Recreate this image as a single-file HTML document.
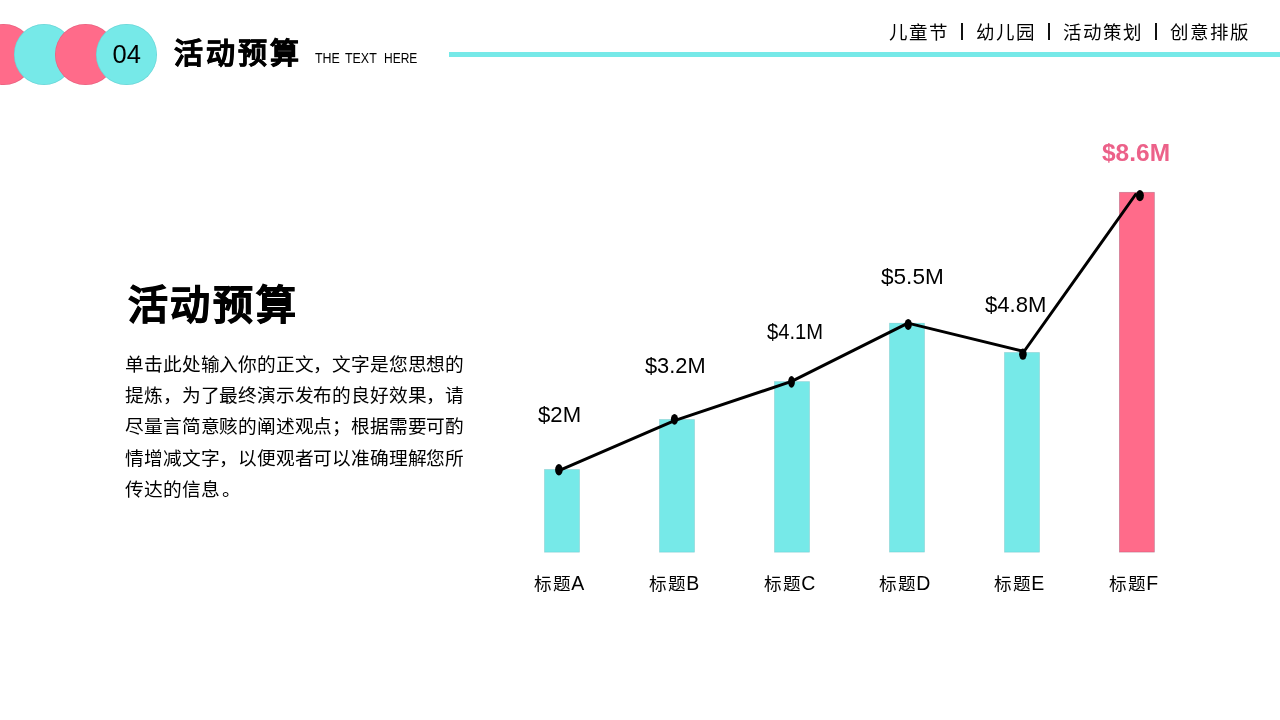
<!DOCTYPE html>
<html lang="zh-CN"><head><meta charset="utf-8">
<style>
html,body{margin:0;padding:0;}
body{width:1280px;height:720px;overflow:hidden;background:#fff;position:relative;will-change:transform;font-family:"Liberation Sans",sans-serif;color:#000;}
.a{position:absolute;white-space:nowrap;}
.c{position:absolute;width:60.5px;height:60.5px;border-radius:50%;top:24.2px;}
.pk{background:#FF6B8A;}
.c.pk{box-shadow:inset 0 0 0 0.7px rgba(150,60,90,0.2);}
.c.cy{box-shadow:inset 0 0 0 0.7px rgba(60,140,150,0.2);}
.cy{background:#76E9E8;}
#num{left:112.6px;top:40px;font-size:25.5px;line-height:28px;}
#h1{left:174px;top:34px;font-size:29px;font-weight:bold;line-height:40px;letter-spacing:3.1px;-webkit-text-stroke:0.6px #000;}
.sub{position:absolute;top:51.2px;font-size:13.8px;line-height:16px;transform:scaleX(0.9);transform-origin:0 0;white-space:nowrap;}
#rule{position:absolute;left:449px;top:52px;width:831px;height:4.8px;background:#76E9E8;}
.nav{top:20.5px;font-size:18.5px;line-height:24px;letter-spacing:1px;}
.sep{position:absolute;top:23px;width:2px;height:17px;background:#111;}
#t2{left:127.5px;top:277.7px;font-size:40px;font-weight:bold;line-height:54px;letter-spacing:2.7px;-webkit-text-stroke:0.9px #000;}
#para{position:absolute;left:125.4px;top:349px;width:345px;font-size:18.7px;line-height:31.2px;letter-spacing:-0.19px;}
.lab{position:absolute;font-size:21.5px;line-height:24px;white-space:nowrap;transform-origin:0 100%;}
.cat{position:absolute;font-size:17.6px;line-height:22px;white-space:nowrap;letter-spacing:0.6px;}
.cat span{font-size:19.5px;letter-spacing:0;}
</style></head><body>
<div class="c pk" style="left:-27px"></div>
<div class="c cy" style="left:13.9px"></div>
<div class="c pk" style="left:55.2px"></div>
<div class="c cy" style="left:96.2px"></div>
<div class="a" id="num">04</div>
<div class="a" id="h1">活动预算</div>
<div class="sub" style="left:315.3px">THE</div><div class="sub" style="left:345.4px">TEXT</div><div class="sub" style="left:383.6px;transform:scaleX(0.87)">HERE</div>
<div id="rule"></div>
<div class="a nav" style="left:888.5px">儿童节</div>
<div class="sep" style="left:961px"></div>
<div class="a nav" style="left:975.8px">幼儿园</div>
<div class="sep" style="left:1048px"></div>
<div class="a nav" style="left:1063px">活动策划</div>
<div class="sep" style="left:1155px"></div>
<div class="a nav" style="left:1169.9px">创意排版</div>

<div class="a" id="t2">活动预算</div>
<div id="para">单击此处输入你的正文，文字是您思想的提炼，为了最终演示发布的良好效果，请尽量言简意赅的阐述观点；根据需要可酌情增减文字，以便观者可以准确理解您所传达的信息<span style="margin-left:2.5px">。</span></div>


<svg style="position:absolute;left:0;top:0" width="1280" height="720">
<rect x="544.5" y="469.5" width="35" height="82.7" fill="#76E9E8" stroke="rgba(60,150,160,0.3)" stroke-width="0.7"/>
<rect x="659.5" y="419.5" width="35" height="132.7" fill="#76E9E8" stroke="rgba(60,150,160,0.3)" stroke-width="0.7"/>
<rect x="774.5" y="381.6" width="35" height="170.6" fill="#76E9E8" stroke="rgba(60,150,160,0.3)" stroke-width="0.7"/>
<rect x="889.5" y="323.2" width="35" height="228.9" fill="#76E9E8" stroke="rgba(60,150,160,0.3)" stroke-width="0.7"/>
<rect x="1004.5" y="352.5" width="35" height="199.7" fill="#76E9E8" stroke="rgba(60,150,160,0.3)" stroke-width="0.7"/>
<rect x="1119.4" y="192.3" width="35" height="359.8" fill="#FF6B8A" stroke="rgba(120,60,90,0.4)" stroke-width="0.7"/>
<polyline points="558.9,470.6 674.5,420.6 791.6,381.4 907.9,323.1 1024,351.5 1136.3,193.5" fill="none" stroke="#000" stroke-width="3" stroke-linejoin="round"/>
<g fill="#000">
<ellipse cx="558.9" cy="469.8" rx="3.8" ry="5.7"/>
<ellipse cx="674.5" cy="419.3" rx="3.6" ry="5.4"/>
<ellipse cx="791.5" cy="381.9" rx="3.4" ry="5.8"/>
<ellipse cx="908.2" cy="324.4" rx="3.6" ry="5.5"/>
<ellipse cx="1022.9" cy="354.2" rx="3.8" ry="5.6"/>
<ellipse cx="1139.9" cy="195.6" rx="4" ry="5.6"/>
</g>
</svg>

<div class="lab" style="left:538.3px;top:402.5px;transform:scale(1.03,1.05)">$2M</div>
<div class="lab" style="left:644.8px;top:354.3px;transform:scale(1.014,1.05)">$3.2M</div>
<div class="lab" style="left:767px;top:319.5px;transform:scale(0.938,1.05)">$4.1M</div>
<div class="lab" style="left:880.7px;top:264.5px;transform:scale(1.05,1.05)">$5.5M</div>
<div class="lab" style="left:984.6px;top:292.5px;transform:scale(1.028,1.05)">$4.8M</div>
<div class="lab" style="left:1101.7px;top:141px;transform:scale(1.02,1.02);font-size:24px;font-weight:bold;color:#EC6189">$8.6M</div>

<div class="cat" style="left:534px;top:572px">标题<span>A</span></div>
<div class="cat" style="left:649px;top:572px">标题<span>B</span></div>
<div class="cat" style="left:764px;top:572px">标题<span>C</span></div>
<div class="cat" style="left:879px;top:572px">标题<span>D</span></div>
<div class="cat" style="left:994px;top:572px">标题<span>E</span></div>
<div class="cat" style="left:1109px;top:572px">标题<span>F</span></div>
</body></html>
